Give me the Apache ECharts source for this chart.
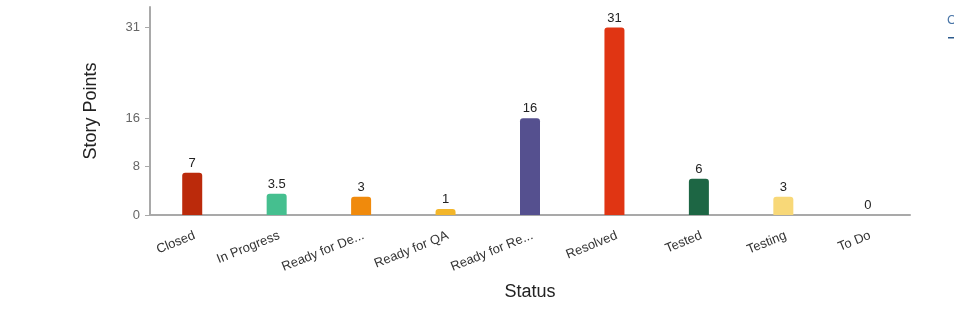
<!DOCTYPE html>
<html><head><meta charset="utf-8">
<script src="https://cdn.jsdelivr.net/npm/echarts@6/dist/echarts.min.js"></script>
<style>html,body{margin:0;padding:0;background:#fff}#c{width:954px;height:318px}</style>
</head><body><div id="c"></div>
<script>
var categories = ['Closed','In Progress','Ready for De...','Ready for QA','Ready for Re...','Resolved','Tested','Testing','To Do'];
var values = [7, 3.5, 3, 1, 16, 31, 6, 3, 0];
var barColors = ['#bb2a0b','#45bf8f','#f08a0c','#f3b62a','#55508f','#e03513','#1d6644','#f8d878','#888888'];
var yTicks = [0, 8, 16, 31];

var chart = echarts.init(document.getElementById('c'), null, {renderer:'canvas'});
chart.setOption({
  animation:false,
  grid:{left:150, right:44, top:7, bottom:103, containLabel:false},
  xAxis:{
    type:'category', data:categories,
    name:'Status', nameLocation:'middle', nameGap:68,
    nameTextStyle:{fontSize:18, color:'#222', fontFamily:'Arial, Liberation Sans'},
    axisLine:{lineStyle:{color:'#a9a9a9', width:2}},
    axisTick:{alignWithLabel:true, length:5, lineStyle:{color:'#a9a9a9'}},
    axisLabel:{rotate:22, margin:14, align:'right', verticalAlign:'top', fontSize:13, color:'#333', fontFamily:'Arial, Liberation Sans', interval:0}
  },
  yAxis:{
    type:'value', min:0, max:34.4,
    name:'Story Points', nameLocation:'middle', nameGap:50,
    nameTextStyle:{fontSize:18, color:'#222', fontFamily:'Arial, Liberation Sans'},
    axisLine:{show:true, lineStyle:{color:'#a9a9a9', width:2}},
    axisTick:{show:true, length:5, customValues:yTicks, lineStyle:{color:'#a9a9a9'}},
    axisLabel:{customValues:yTicks, fontSize:13, color:'#666', margin:10, fontFamily:'Arial, Liberation Sans'},
    splitLine:{show:false}
  },
  series:[{
    type:'bar', barWidth:20,
    data: values.map(function(v,i){return {value:v, itemStyle:{color:barColors[i]}};}),
    itemStyle:{borderRadius:[3,3,0,0]},
    label:{show:true, position:'top', distance:3, fontSize:13, color:'#222', fontFamily:'Arial, Liberation Sans'}
  }],
  graphic:[
    {type:'text', left:947, top:14, style:{text:'C', fontSize:13, fill:'#4a76a8', fontFamily:'Arial, Liberation Sans'}},
    {type:'rect', shape:{x:948, y:37, width:6, height:1.5}, style:{fill:'#2c5a8c'}}
  ]
});
</script></body></html>
